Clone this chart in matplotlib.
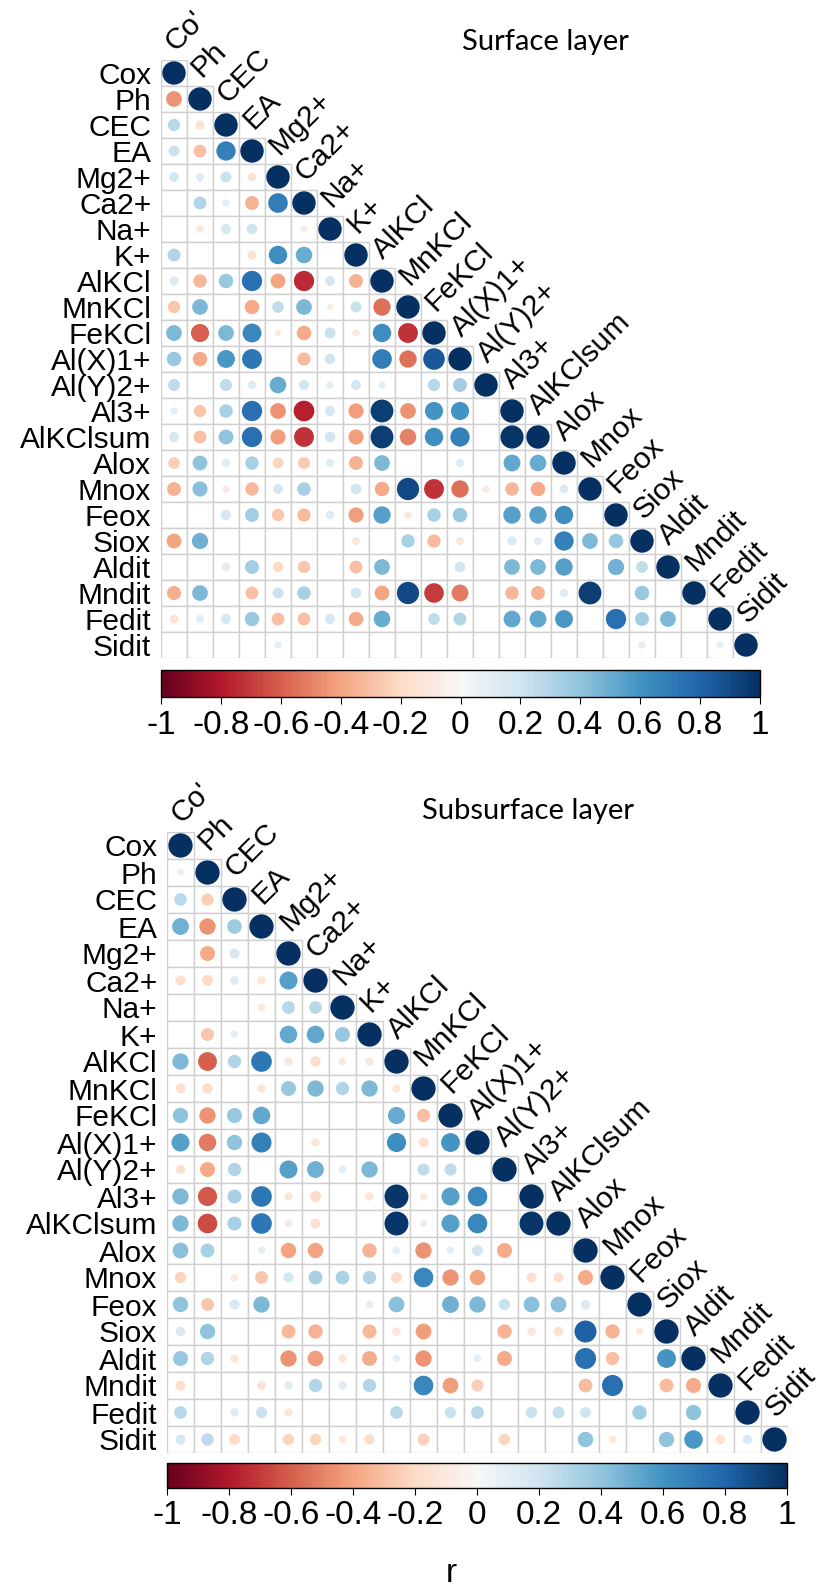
import numpy as np
import matplotlib
matplotlib.use("Agg")
import matplotlib.pyplot as plt
from matplotlib.patches import Circle, Rectangle
from matplotlib.colors import Normalize
from matplotlib.cm import ScalarMappable

plt.rcParams['font.family'] = ['Liberation Sans', 'DejaVu Sans']

labels = ["Cox", "Ph", "CEC", "EA", "Mg2+", "Ca2+", "Na+", "K+", "AlKCl", "MnKCl",
          "FeKCl", "Al(X)1+", "Al(Y)2+", "Al3+", "AlKClsum", "Alox", "Mnox", "Feox",
          "Siox", "Aldit", "Mndit", "Fedit", "Sidit"]
col_labels = ["Co'"] + labels[1:]

N = None
# lower triangle, row i holds the i values left of the diagonal; None = blank (not significant)
surface = [
    [],
    [-0.45],
    [0.28, -0.15],
    [0.22, -0.3, 0.68],
    [0.18, 0.12, 0.22, -0.14],
    [N, 0.3, 0.1, -0.35, 0.7],
    [N, -0.1, 0.18, 0.2, N, -0.08],
    [0.3, N, N, -0.15, 0.62, 0.5, N],
    [0.15, -0.33, 0.38, 0.75, -0.4, -0.75, 0.18, -0.35],
    [-0.28, 0.45, N, -0.38, 0.25, 0.45, -0.08, 0.22, -0.55],
    [0.45, -0.6, 0.45, 0.65, -0.08, -0.38, 0.22, -0.1, 0.62, -0.72],
    [0.38, -0.38, 0.58, 0.72, N, -0.32, 0.2, N, 0.7, -0.55, 0.85],
    [0.26, N, 0.26, 0.14, 0.5, 0.18, 0.1, 0.18, 0.1, N, 0.28, 0.35],
    [0.1, -0.28, 0.33, 0.75, -0.45, -0.78, 0.18, -0.42, 0.95, -0.45, 0.6, 0.6, N],
    [0.18, -0.3, 0.4, 0.75, -0.42, -0.72, 0.2, -0.42, 0.95, -0.5, 0.62, 0.68, N, 0.98],
    [-0.25, 0.4, 0.13, 0.33, -0.22, -0.26, 0.12, -0.35, 0.45, N, N, 0.13, N, 0.52, 0.5],
    [-0.35, 0.42, -0.1, -0.33, 0.18, 0.33, N, 0.2, -0.38, 0.9, -0.72, -0.55, -0.1, -0.33, -0.38, 0.15],
    [N, N, 0.18, 0.35, -0.28, -0.32, 0.13, -0.42, 0.55, -0.1, 0.33, 0.38, N, 0.55, 0.55, 0.62, N],
    [-0.4, 0.48, N, N, N, N, N, -0.12, N, 0.33, -0.32, -0.12, N, 0.15, 0.12, 0.68, 0.45, 0.38],
    [N, N, 0.13, 0.35, -0.2, -0.28, N, -0.3, 0.45, N, N, 0.2, N, 0.45, 0.45, 0.55, N, 0.48, 0.25],
    [-0.36, 0.45, N, -0.3, 0.22, 0.33, N, 0.2, -0.4, 0.9, -0.7, -0.52, N, -0.33, -0.35, 0.13, 0.95, N, 0.38, N],
    [-0.14, 0.12, 0.18, 0.38, -0.3, -0.3, 0.18, -0.38, 0.5, N, 0.25, 0.3, N, 0.52, 0.52, 0.58, N, 0.75, 0.35, 0.45, N],
    [N, N, N, N, 0.1, N, N, N, N, N, N, N, N, N, N, N, N, N, 0.1, N, N, 0.1],
]

subsurface = [
    [],
    [-0.08],
    [0.27, -0.25],
    [0.48, -0.45, 0.36],
    [N, -0.38, 0.17, N],
    [-0.17, -0.2, 0.13, -0.12, 0.55],
    [N, N, N, -0.1, 0.28, 0.28],
    [N, -0.28, 0.1, N, 0.52, 0.52, 0.38],
    [0.45, -0.6, 0.3, 0.72, -0.12, -0.18, -0.1, -0.12],
    [-0.17, -0.18, N, -0.12, 0.38, 0.45, 0.3, 0.45, -0.12],
    [0.4, -0.45, 0.38, 0.52, N, N, N, N, 0.5, -0.3],
    [0.55, -0.52, 0.4, 0.68, N, -0.12, N, N, 0.62, -0.17, 0.6],
    [-0.15, -0.38, 0.3, N, 0.55, 0.48, 0.1, 0.45, N, 0.25, 0.25, N],
    [0.45, -0.62, 0.33, 0.72, -0.12, -0.2, N, -0.12, 0.97, -0.1, 0.55, 0.65, N],
    [0.45, -0.65, 0.33, 0.72, -0.1, -0.17, N, N, 0.97, -0.08, 0.55, 0.65, N, 0.97],
    [0.42, 0.33, N, 0.1, -0.4, -0.4, N, -0.35, 0.1, -0.45, 0.1, 0.2, -0.38, N, N],
    [-0.22, N, -0.1, -0.28, 0.18, 0.33, 0.32, 0.3, -0.2, 0.65, -0.45, -0.4, N, -0.17, -0.17, -0.38],
    [0.4, -0.28, 0.17, 0.45, N, N, N, 0.1, 0.42, N, 0.48, 0.45, 0.22, 0.42, 0.42, 0.15, N],
    [0.15, 0.4, N, N, -0.33, -0.35, N, -0.33, -0.12, -0.42, N, N, -0.35, -0.12, -0.16, 0.82, -0.35, -0.1],
    [0.38, 0.3, -0.12, N, -0.45, -0.42, -0.12, -0.37, 0.1, -0.45, N, 0.1, -0.38, N, N, 0.75, -0.3, N, 0.6],
    [-0.17, N, N, -0.14, 0.12, 0.3, 0.12, 0.3, N, 0.65, -0.42, -0.25, N, N, N, -0.32, 0.75, N, -0.32, -0.38],
    [0.28, N, 0.12, 0.22, -0.12, N, N, N, 0.28, N, 0.22, 0.28, N, 0.22, 0.24, 0.2, N, 0.35, N, 0.4, N],
    [0.17, 0.26, -0.2, N, -0.22, -0.22, -0.1, -0.18, N, -0.24, N, N, -0.22, N, N, 0.4, -0.1, N, 0.4, 0.58, -0.15, 0.15],
]

cbar_ticks = [-1, -0.8, -0.6, -0.4, -0.2, 0, 0.2, 0.4, 0.6, 0.8, 1]
cbar_ticklabels = ["-1", "-0.8", "-0.6", "-0.4", "-0.2", "0", "0.2", "0.4", "0.6", "0.8", "1"]

W, H = 827, 1590
cmap = plt.get_cmap('RdBu')
norm = Normalize(-1, 1)
n = len(labels)


def px_axes(fig, x0, y0, w, h):
    # place an axes using pixel box (top-left origin)
    return fig.add_axes([x0 / W, 1 - (y0 + h) / H, w / W, h / H])


def corr_panel(ax, rows):
    ax.set_xlim(0, n)
    ax.set_ylim(n, 0)
    for i in range(n):
        vals = rows[i] + [1.0]
        for j, v in enumerate(vals):
            ax.add_patch(Rectangle((j, i), 1, 1, facecolor='white',
                                   edgecolor='#cfcfcf', lw=1.0, zorder=1))
            if v is None:
                continue
            ax.add_patch(Circle((j + 0.5, i + 0.5), 0.45 * np.sqrt(abs(v)),
                                facecolor=cmap(norm(v)), edgecolor='none', zorder=2))
    ax.set_yticks(np.arange(n) + 0.5)
    ax.set_yticklabels(labels, fontsize=21.5)
    ax.tick_params(axis='y', length=0, pad=7)
    ax.set_xticks([])
    for s in ax.spines.values():
        s.set_visible(False)
    for j, lab in enumerate(col_labels):
        ax.text(j + 0.55, j - 0.3, lab, rotation=45, ha='left', va='baseline',
                rotation_mode='anchor', fontsize=21.5, clip_on=False)


def colorbar(fig, cax):
    cb = fig.colorbar(ScalarMappable(norm=norm, cmap=cmap), cax=cax, orientation='horizontal')
    cb.set_ticks(cbar_ticks)
    cb.set_ticklabels(cbar_ticklabels)
    cb.outline.set_linewidth(1.0)
    cax.tick_params(labelsize=24, length=5, width=0.8, pad=4)
    return cb


fig = plt.figure(figsize=(W / 100, H / 100), dpi=100)

ax1 = px_axes(fig, 161, 60, 598, 598)
corr_panel(ax1, surface)
cax1 = px_axes(fig, 161, 670, 599, 27)
colorbar(fig, cax1)
fig.text(545 / W, 1 - 42 / H, "Surface layer", ha='center', va='center',
         fontsize=21, family=['Lato', 'DejaVu Sans'])

ax2 = px_axes(fig, 167, 832, 621, 621)
corr_panel(ax2, subsurface)
cax2 = px_axes(fig, 167, 1463, 620, 25)
colorbar(fig, cax2)
fig.text(528 / W, 1 - 811 / H, "Subsurface layer", ha='center', va='center',
         fontsize=21, family=['Lato', 'DejaVu Sans'])

fig.text(451 / W, 1 - 1573 / H, "r", ha='center', va='center', fontsize=24)

fig.savefig("out.png", dpi=100)
